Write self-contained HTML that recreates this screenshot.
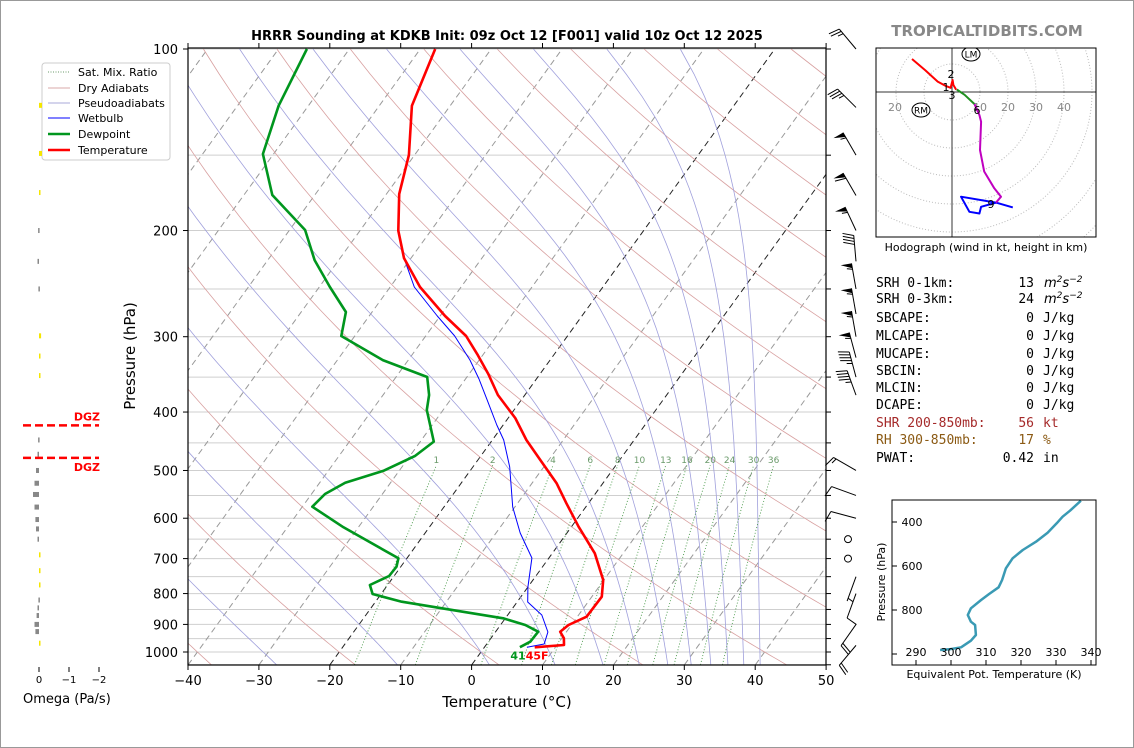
<!DOCTYPE html>
<html><head><meta charset="utf-8"><style>
html,body{margin:0;padding:0;background:#fff}
svg{display:block;font-family:"DejaVu Sans","Liberation Sans",sans-serif}
</style></head><body>
<svg id="fig" width="1134" height="748" viewBox="0 0 1134 748" xmlns="http://www.w3.org/2000/svg">
<rect x="0.5" y="0.5" width="1133" height="747" fill="#fff" stroke="#999"/>
<defs><clipPath id="pc"><rect x="188" y="48" width="638" height="617"/></clipPath>
<clipPath id="hc"><rect x="876" y="48" width="220" height="189"/></clipPath>
<clipPath id="tc"><rect x="892" y="500" width="204" height="165"/></clipPath></defs>
<g id="bg" clip-path="url(#pc)"></g>
<g id="series" clip-path="url(#pc)"></g>
<g id="axes"></g>
<text x="507" y="40" text-anchor="middle" font-size="13" font-weight="bold">HRRR Sounding at KDKB Init: 09z Oct 12 [F001] valid 10z Oct 12 2025</text>
<text x="987" y="36" text-anchor="middle" font-size="15" font-weight="bold" fill="#888">TROPICALTIDBITS.COM</text>
<text x="507" y="707" text-anchor="middle" font-size="15">Temperature (°C)</text>
<text transform="translate(135,356) rotate(-90)" text-anchor="middle" font-size="15">Pressure (hPa)</text>
<g>
<rect x="42" y="63" width="128" height="97" rx="3" fill="#fff" stroke="#ccc"/>
<line x1="48" y1="72" x2="70" y2="72" stroke="#6a9a6a" stroke-dasharray="1,1.5"/>
<text x="78" y="76" font-size="11">Sat. Mix. Ratio</text>
<line x1="48" y1="88" x2="70" y2="88" stroke="#d8a8a8"/>
<text x="78" y="92" font-size="11">Dry Adiabats</text>
<line x1="48" y1="103" x2="70" y2="103" stroke="#a8a8d8"/>
<text x="78" y="107" font-size="11">Pseudoadiabats</text>
<line x1="48" y1="118" x2="70" y2="118" stroke="#00f"/>
<text x="78" y="122" font-size="11">Wetbulb</text>
<line x1="48" y1="134" x2="70" y2="134" stroke="#00961e" stroke-width="2.5"/>
<text x="78" y="138" font-size="11">Dewpoint</text>
<line x1="48" y1="150" x2="70" y2="150" stroke="#f00" stroke-width="2.5"/>
<text x="78" y="154" font-size="11">Temperature</text>
</g>
<g id="omega"></g>
<g id="barbs"></g>
<g id="hodo"></g>
<g id="thetae"></g>
<g font-family="'DejaVu Sans Mono','Liberation Mono',monospace" font-size="13">
<text x="876" y="287">SRH 0-1km:</text><text x="1034" y="287" text-anchor="end">13</text><text x="1044" y="287" font-style="italic" font-family="'DejaVu Sans',sans-serif">m<tspan dy="-5" font-size="9">2</tspan><tspan dy="5">s</tspan><tspan dy="-5" font-size="9">−2</tspan></text>
<text x="876" y="303">SRH 0-3km:</text><text x="1034" y="303" text-anchor="end">24</text><text x="1044" y="303" font-style="italic" font-family="'DejaVu Sans',sans-serif">m<tspan dy="-5" font-size="9">2</tspan><tspan dy="5">s</tspan><tspan dy="-5" font-size="9">−2</tspan></text>
<text x="876" y="322">SBCAPE:</text><text x="1034" y="322" text-anchor="end">0</text><text x="1043" y="322">J/kg</text>
<text x="876" y="340">MLCAPE:</text><text x="1034" y="340" text-anchor="end">0</text><text x="1043" y="340">J/kg</text>
<text x="876" y="358">MUCAPE:</text><text x="1034" y="358" text-anchor="end">0</text><text x="1043" y="358">J/kg</text>
<text x="876" y="375">SBCIN:</text><text x="1034" y="375" text-anchor="end">0</text><text x="1043" y="375">J/kg</text>
<text x="876" y="392">MLCIN:</text><text x="1034" y="392" text-anchor="end">0</text><text x="1043" y="392">J/kg</text>
<text x="876" y="409">DCAPE:</text><text x="1034" y="409" text-anchor="end">0</text><text x="1043" y="409">J/kg</text>
<text x="876" y="427" fill="#a52a2a">SHR 200-850mb:</text><text x="1034" y="427" text-anchor="end" fill="#a52a2a">56</text><text x="1043" y="427" fill="#a52a2a">kt</text>
<text x="876" y="444" fill="#8b5a14">RH 300-850mb:</text><text x="1034" y="444" text-anchor="end" fill="#8b5a14">17</text><text x="1043" y="444" fill="#8b5a14">%</text>
<text x="876" y="462">PWAT:</text><text x="1034" y="462" text-anchor="end">0.42</text><text x="1043" y="462">in</text>
</g>
</svg>
<script>
// ---- Skew-T data ----
const tempP = [100,124.2,149.9,174,200.1,222.2,248.1,277.2,299.2,321.8,345.9,374.8,409.3,445,480.4,525.2,566.8,619.7,686,759.6,809.6,873.9,902.1,925.4,949.1,973.6,982.2];
const tempT = [-67.9,-65.4,-60.8,-58.2,-54.6,-51.0,-45.8,-39.3,-34.3,-30.7,-27.3,-23.8,-19.0,-15.2,-11.2,-6.5,-3.1,1.0,6.0,9.9,11.4,11.3,9.6,9.1,10.3,11.0,7.1];
const dewP = [100,124.2,149.3,174.6,199.6,223.9,248.1,273,299.2,328,349.9,374.8,396.9,447.8,473.2,500.4,524,547,574.1,621.2,699.2,722.1,748.2,774.3,801.3,825.3,857.6,879.2,902.1,925.4,961.4,982];
const dewT = [-86.0,-84.2,-81.5,-76.0,-67.8,-63.4,-58.5,-53.7,-51.9,-43.6,-35.6,-33.5,-32.3,-28.1,-29.3,-32.2,-36.4,-38.1,-38.6,-32.1,-21.2,-20.6,-20.7,-22.5,-21.2,-16.3,-6.6,-0.3,3.5,6.0,5.9,5.0];
const wbP = [100,124.2,149.9,174,200.1,222.2,248.1,277.2,299.2,328,352.6,382.1,420.3,445,493.4,574.8,634.8,698.4,780.2,826.2,868.1,926.5,969.9,982];
const wbT = [-67.9,-65.4,-60.8,-58.2,-54.6,-51.0,-46.6,-40.4,-35.9,-31.3,-28.1,-24.8,-20.9,-18.4,-14.8,-10.3,-6.6,-2.4,0.0,1.5,4.8,7.4,8.1,6.0];
const xTicks = [-40,-30,-20,-10,0,10,20,30,40,50];
const yTickLabels = [100,200,300,400,500,600,700,800,900,1000];
const mixRatios = [1,2,4,6,8,10,13,16,20,24,30,36];
// wind barbs
const windP = [100,125,150,175,200,225,250,275,300,325,350,375,500,550,600,650,700,750,800,900,975];
const windDir = [320,315,330,330,335,355,350,350,350,345,345,340,300,290,285,0,0,200,200,215,220];
const windSpd = [25,35,55,60,55,40,55,55,55,55,45,45,15,10,10,0,0,5,10,20,20];
// omega
const omegaP = [124,149,173,200,225,250,299,323,348,445,470,500,525,548,575,603,625,650,690,733,774,820,845,870,900,925,967];
const omegaV = [-0.1,-0.1,-0.03,0.03,0.05,0.02,-0.07,-0.05,-0.04,0.03,0.05,0.1,0.15,0.2,0.15,0.12,0.1,0.05,-0.03,-0.02,-0.02,0.02,0.05,0.08,0.15,0.12,-0.02];
const dgzP = [420.8,476.5];
// hodograph (kt)
const hodoRedU = [-14.3,-9.5,-5.1,-2.1,-0.5,0.2,0.5,1.5];
const hodoRedV = [11.8,7.7,3.7,2.1,1.5,4.3,2.5,0.8];
const hodoGreenU = [1.7,4.5,8.0];
const hodoGreenV = [0.9,-1.0,-4.3];
const hodoMagU = [8.0,9.8,10.4,10.0,11.5,15.1,17.5,15.7];
const hodoMagV = [-4.3,-8.2,-10.6,-20.7,-28.4,-34.4,-37.4,-39.5];
const hodoBlueU = [21.7,15.7,3.2,6.2,9.8,10.4,15.7];
const hodoBlueV = [-41.2,-39.5,-37.4,-42.8,-43.4,-41.0,-39.5];
// theta-e
const thetaP = [303.2,348.6,375.9,405.9,448.6,489.5,527.3,565,610.5,663.6,696.8,727.3,754.5,792.3,822.7,853.2,868.2,913.6,939.5,969.5,978.6,981.8];
const thetaE = [337.1,334.0,331.9,330.2,327.6,324.3,320.5,317.6,315.7,314.6,313.6,310.9,308.6,305.7,304.8,305.7,306.9,307.1,305.7,302.9,299.5,296.9];
const thetaXTicks = [290,300,310,320,330,340];
const thetaYTicks = [400,600,800,1000];

const NS = 'http://www.w3.org/2000/svg';
function mk(parent, tag, attrs, text){const e=document.createElementNS(NS,tag);for(const k in attrs)e.setAttribute(k,attrs[k]);if(text!==undefined)e.textContent=text;parent.appendChild(e);return e;}
function yP(p){return 49+603*Math.log10(p/100);}
function xT(T,p){return 188+(T+40)*7.09+(665-yP(p))*0.7224;}
const bg=document.getElementById('bg'), ser=document.getElementById('series'), ax=document.getElementById('axes');

for(let p=100;p<=1050;p+=50){
  const l=mk(bg,'line',{x1:188,x2:826,y1:yP(p),y2:yP(p),stroke:'#cfcfcf','stroke-width':1});
  
  
}
for(let T=-140;T<=50;T+=10){
  const l=mk(bg,'line',{x1:xT(T,1050),y1:yP(1050),x2:xT(T,100),y2:yP(100),stroke:(T===0||T===-20)?'#222':'#999','stroke-width':1,'stroke-dasharray':'6,4'});
  
  
}
const ps=[];for(let p=1050;p>=99;p-=10)ps.push(p);
for(let th=-80;th<=240;th+=20){
  const thK=th+273.15;
  const d=ps.map((p,i)=>(i?'L':'M')+xT(thK*Math.pow(p/1000,0.2857)-273.15,p).toFixed(1)+' '+yP(p).toFixed(1)).join('');
  const e=mk(bg,'path',{d:d,fill:'none',stroke:'#d8a0a0','stroke-width':0.8});
  
  
}
function es(T){return 6.112*Math.exp(17.67*T/(T+243.5));}
function dTdp(T,p){const Rd=287,cp=1005,Lv=2.5e6,eps=0.622;const Tk=T+273.15;const e=Math.min(es(T),p*0.5);const rs=eps*e/(p-e);return (Rd*Tk+Lv*rs)/(p*(cp+Lv*Lv*rs*eps/(Rd*Tk*Tk)));}
for(let th=243;th<=463;th+=20){
  let T=th*Math.pow(0.1,0.2857)-273.15;const pts=[[T,100]];
  for(let p=100;p<1050;p+=1){T+=dTdp(T,p)*1;if((p+1)%10===0)pts.push([T,p+1]);}
  const d=pts.map((q,i)=>(i?'L':'M')+xT(q[0],q[1]).toFixed(1)+' '+yP(q[1]).toFixed(1)).join('');
  const e=mk(bg,'path',{d:d,fill:'none',stroke:'#a0a0dc','stroke-width':0.8});
  
  
}
mixRatios.forEach(w=>{
  const pts=[];for(let p=1050;p>=490;p-=10){const e=w*p/(622+w);const l=Math.log(e/6.112);pts.push([243.5*l/(17.67-l),p]);}
  const d=pts.map((q,i)=>(i?'L':'M')+xT(q[0],q[1]).toFixed(1)+' '+yP(q[1]).toFixed(1)).join('');
  const e=mk(bg,'path',{d:d,fill:'none',stroke:'#4a9a4a','stroke-width':0.9,'stroke-dasharray':'1,2'});
  
  
  const top=pts[pts.length-1];
  const t=mk(bg,'text',{x:xT(top[0],top[1]).toFixed(1),y:yP(top[1])-2,'font-size':9,fill:'#6a9a6a','text-anchor':'middle'},String(w));
  
  
});
function seriesPath(P,T,color,w,name){
  const d=P.map((p,i)=>(i?'L':'M')+xT(T[i],p).toFixed(1)+' '+yP(p).toFixed(1)).join('');
  const e=mk(ser,'path',{d:d,fill:'none',stroke:color,'stroke-width':w,'stroke-linejoin':'round'});
  
  
}
seriesPath(wbP,wbT,'#0000ff',1,'wetbulb-line');
seriesPath(dewP,dewT,'#00961e',2.6,'dewpoint-line');
seriesPath(tempP,tempT,'#ff0000',2.6,'temperature-line');
const sfcT=tempT[tempT.length-1], sfcTd=dewT[dewT.length-1], sfcP=tempP[tempP.length-1];
const tf=mk(ser,'text',{x:xT(sfcT,sfcP)-9,y:yP(sfcP)+12,'font-size':11,'font-weight':'bold',fill:'#ff0000'},Math.round(sfcT*9/5+32)+'F');


const df=mk(ser,'text',{x:xT(sfcT,sfcP)-9,y:yP(sfcP)+12,'font-size':11,'font-weight':'bold',fill:'#00961e','text-anchor':'end'},String(Math.round(sfcTd*9/5+32)));



mk(ax,'rect',{x:188,y:48,width:638,height:617,fill:'none',stroke:'#000','stroke-width':1.2});
xTicks.forEach(t=>{
  const x=188+(t+40)*7.09;
  mk(ax,'line',{x1:x,x2:x,y1:665,y2:670,stroke:'#000'});
  mk(ax,'line',{x1:x,x2:x,y1:48,y2:43,stroke:'#000'});
  const e=mk(ax,'text',{x:x,y:685,'font-size':13,'text-anchor':'middle'},t<0?'−'+(-t):String(t));
  
  
});
for(let p=100;p<=1050;p+=50){mk(ax,'line',{x1:826,x2:831,y1:yP(p),y2:yP(p),stroke:'#000'});}
yTickLabels.forEach(p=>{
  mk(ax,'line',{x1:183,x2:188,y1:yP(p),y2:yP(p),stroke:'#000'});
  const e=mk(ax,'text',{x:178,y:yP(p)+5,'font-size':13,'text-anchor':'end'},String(p));
  
  
});

const om=document.getElementById('omega');
const ox=(v)=>39-v*30;
omegaP.forEach((p,i)=>{
  const v=omegaV[i];const x0=Math.min(ox(0),ox(v)),w=Math.max(1.5,Math.abs(v*30));
  const r=mk(om,'rect',{x:x0,y:yP(p)-2.5,width:w,height:5,fill:v<0?'#f5e600':'#888'});
  
  
});
dgzP.forEach((p,i)=>{
  const l=mk(om,'line',{x1:23,x2:99,y1:yP(p),y2:yP(p),stroke:'#f00','stroke-width':2.5,'stroke-dasharray':'8,4'});
  
  
  const t=mk(om,'text',{x:100,y:i===0?yP(p)-5:yP(p)+13,'font-size':11,'font-weight':'bold',fill:'#f00','text-anchor':'end'},'DGZ');
  
  
});
[0,-1,-2].forEach(v=>{
  mk(om,'line',{x1:ox(v),x2:ox(v),y1:667,y2:672,stroke:'#000'});
  const t=mk(om,'text',{x:ox(v),y:683,'font-size':10,'text-anchor':'middle'},v===0?'0':'−'+(-v));
  
  
});
const ot=mk(om,'text',{x:23,y:703,'font-size':13},'Omega (Pa/s)');



const bb=document.getElementById('barbs');
windP.forEach((p,i)=>{
  const bx=856,by=yP(p),d=windDir[i]*Math.PI/180,s=windSpd[i];
  const g=mk(bb,'g',{});
  
  
  if(s<2.5){mk(g,'circle',{cx:bx-8,cy:by,r:3.5,fill:'none',stroke:'#000'});return;}
  const ux=Math.sin(d),uy=-Math.cos(d),px=uy,py=-ux,L=26;
  const tx=bx+ux*L,ty=by+uy*L;
  mk(g,'line',{x1:bx,y1:by,x2:tx,y2:ty,stroke:'#000','stroke-width':1});
  let rem=Math.round(s/5)*5,pos=0;
  while(rem>=50){const ax1=tx-ux*pos,ay1=ty-uy*pos,ax2=tx-ux*(pos+5),ay2=ty-uy*(pos+5);
    mk(g,'path',{d:`M${ax1} ${ay1}L${ax1+px*11} ${ay1+py*11}L${ax2} ${ay2}Z`,fill:'#000'});pos+=6;rem-=50;}
  while(rem>=10){const a1=tx-ux*pos,b1=ty-uy*pos;mk(g,'line',{x1:a1,y1:b1,x2:a1+px*11+ux*3,y2:b1+py*11+uy*3,stroke:'#000'});pos+=3;rem-=10;}
  if(rem>=5){if(pos===0)pos=3;const a1=tx-ux*pos,b1=ty-uy*pos;mk(g,'line',{x1:a1,y1:b1,x2:a1+px*5.5+ux*1.5,y2:b1+py*5.5+uy*1.5,stroke:'#000'});}
});

const hd=document.getElementById('hodo');
const hx=(u)=>952+u*2.8, hy=(v)=>92-v*2.8;
const hclip=mk(hd,'g',{'clip-path':'url(#hc)'});
for(let k=1;k<=9;k++){mk(hclip,'circle',{cx:952,cy:92,r:28*k,fill:'none',stroke:'#bbb','stroke-dasharray':'1,2'});}
mk(hclip,'line',{x1:876,x2:1096,y1:92,y2:92,stroke:'#333'});
mk(hclip,'line',{x1:952,x2:952,y1:48,y2:237,stroke:'#333'});
[[-20,895],[10,980],[20,1008],[30,1036],[40,1064]].forEach(a=>{
  const t=mk(hclip,'text',{x:a[1],y:111,'font-size':11,fill:'#888','text-anchor':'middle'},String(Math.abs(a[0])));
  
  
});
function hodoSeg(U,V,color,name){
  const d=U.map((u,i)=>(i?'L':'M')+hx(u).toFixed(1)+' '+hy(V[i]).toFixed(1)).join('');
  const e=mk(hclip,'path',{d:d,fill:'none',stroke:color,'stroke-width':2,'stroke-linejoin':'round'});
  
  
}
hodoSeg(hodoBlueU,hodoBlueV,'#0000ff','hodograph-9-12km');
hodoSeg(hodoMagU,hodoMagV,'#c000c0','hodograph-6-9km');
hodoSeg(hodoGreenU,hodoGreenV,'#209020','hodograph-3-6km');
hodoSeg(hodoRedU,hodoRedV,'#ff0000','hodograph-0-3km');
[['2',951,78],['1',946,91],['3',952,99],['6',977,114],['9',991,208]].forEach(a=>{
  const t=mk(hclip,'text',{x:a[1],y:a[2],'font-size':11,'text-anchor':'middle'},a[0]);
  
  
});
[['LM',971,54],['RM',921,110]].forEach(a=>{
  mk(hclip,'ellipse',{cx:a[1],cy:a[2],rx:9,ry:7,fill:'#fff',stroke:'#000'});
  const t=mk(hclip,'text',{x:a[1],y:a[2]+3.5,'font-size':9,'text-anchor':'middle'},a[0]);
  
  
});
mk(hd,'rect',{x:876,y:48,width:220,height:189,fill:'none',stroke:'#000'});
const hcap=mk(hd,'text',{x:986,y:251,'font-size':11,'text-anchor':'middle'},'Hodograph (wind in kt, height in km)');



const te=document.getElementById('thetae');
const tx=(t)=>916+(t-290)*3.5, ty=(p)=>522+(p-400)*0.22;
const tcl=mk(te,'g',{'clip-path':'url(#tc)'});
const tp=thetaP.map((p,i)=>(i?'L':'M')+tx(thetaE[i]).toFixed(1)+' '+ty(p).toFixed(1)).join('');
const tl=mk(tcl,'path',{d:tp,fill:'none',stroke:'#3a9ab4','stroke-width':2.5,'stroke-linejoin':'round'});


mk(te,'rect',{x:892,y:500,width:204,height:165,fill:'none',stroke:'#000'});
thetaXTicks.forEach(t=>{
  mk(te,'line',{x1:tx(t),x2:tx(t),y1:665,y2:660,stroke:'#000'});
  const e=mk(te,'text',{x:tx(t),y:656,'font-size':11,'text-anchor':'middle'},String(t));
  
  
});
thetaYTicks.forEach(p=>{
  mk(te,'line',{x1:892,x2:897,y1:ty(p),y2:ty(p),stroke:'#000'});
  if(p<1000){const e=mk(te,'text',{x:912,y:ty(p)+4,'font-size':11,'text-anchor':'middle'},String(p));
  
  }
});
const tt1=mk(te,'text',{x:994,y:678,'font-size':11,'text-anchor':'middle'},'Equivalent Pot. Temperature (K)');


const tt2=mk(te,'text',{transform:'translate(885,582) rotate(-90)','font-size':11,'text-anchor':'middle'},'Pressure (hPa)');


</script>
</body></html>
